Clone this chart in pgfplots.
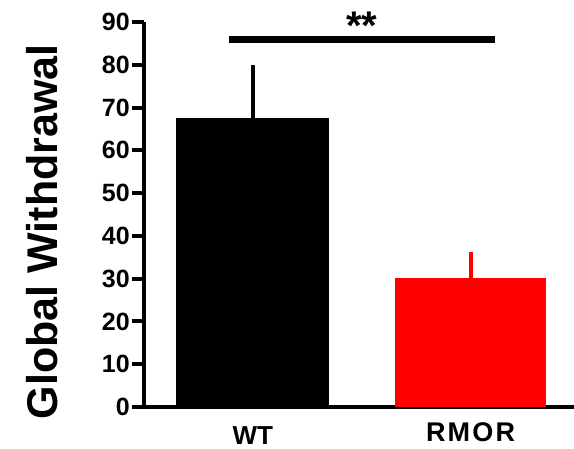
\documentclass[border=0pt]{standalone}
\usepackage{pgfplots}
\pgfplotsset{compat=1.18}
\usepackage{fontspec}
\setmainfont{Liberation Sans}
\begin{document}
\begin{tikzpicture}
\begin{axis}[
  scale only axis, width=430pt, height=385pt,
  xmin=-0.5, xmax=1.475, ymin=0, ymax=90,
  enlargelimits=false, clip=false,
  axis x line=bottom, axis y line=left,
  axis line style={-, line width=4.5pt, black},
  ytick={0,10,...,90},
  xtick={0,1},
  xticklabels={WT,{\raisebox{3pt}{\addfontfeatures{LetterSpace=8}\fontsize{27}{27}\selectfont RMOR}}},
  x tick style={draw=none},
  y tick style={line width=4pt, black},
  major tick length=12pt, tick align=outside,
  /pgf/number format/assume math mode=true,
  yticklabel style={font=\bfseries\fontsize{25}{25}\selectfont, inner sep=2pt},
  xticklabel style={font=\bfseries\fontsize{26}{26}\selectfont, anchor=base, yshift=-25pt},
  ylabel={Global Withdrawal},
  ylabel style={font=\bfseries\fontsize{43}{43}\selectfont, at={(axis description cs:-0.237,0.455)}, anchor=center},
]
\addplot[ybar, bar width=153pt, fill=black, draw=none,
  error bars/.cd, y dir=plus, y explicit, error mark=none,
  error bar style={line width=4pt, black}]
  coordinates {(0,67.5) +- (0,12.5)};
\addplot[ybar, bar width=151pt, fill=red, draw=none,
  error bars/.cd, y dir=plus, y explicit, error mark=none,
  error bar style={line width=4pt, red}]
  coordinates {(1,30.2) +- (0,6.0)};
\addplot[black, line width=7pt, no marks, forget plot]
  coordinates {(-0.108,85.9) (1.112,85.9)};
\node[font=\bfseries\fontsize{40}{40}\selectfont, anchor=base, inner sep=0pt] at (axis cs:0.5,85.9) {**};
\end{axis}
\pgfresetboundingbox
\useasboundingbox (-144pt,-41pt) rectangle (430pt,407pt);
\end{tikzpicture}
\end{document}
